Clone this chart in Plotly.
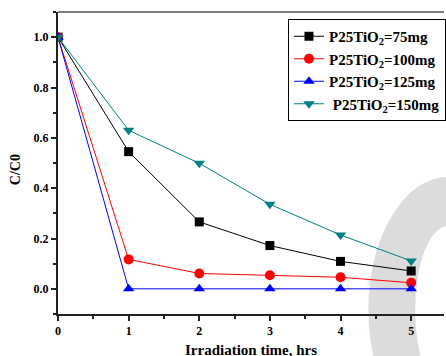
import plotly.graph_objects as go

time_hrs = [0, 1, 2, 3, 4, 5]
c_75mg = [1.0, 0.545, 0.266, 0.172, 0.109, 0.071]
c_100mg = [1.0, 0.117, 0.061, 0.054, 0.046, 0.024]
c_125mg = [1.0, 0.0, 0.0, 0.0, 0.0, 0.0]
c_150mg = [1.0, 0.630, 0.499, 0.336, 0.214, 0.111]

names = ["P25TiO<sub>2</sub>=75mg", "P25TiO<sub>2</sub>=100mg",
         "P25TiO<sub>2</sub>=125mg", " P25TiO<sub>2</sub>=150mg"]
series = [c_75mg, c_100mg, c_125mg, c_150mg]
colors = ["#000000", "#ff0000", "#0000ff", "#008080"]
symbols = ["square", "circle", "triangle-up", "triangle-down"]
sizes = [9, 10, 10, 10]

FONT = "Liberation Serif"

fig = go.Figure()
for name, ys, col, sym, sz in zip(names, series, colors, symbols, sizes):
    fig.add_trace(go.Scatter(
        x=time_hrs, y=ys, name=name, mode="lines+markers",
        line=dict(color=col, width=1),
        marker=dict(symbol=sym, size=sz, color=col),
    ))

W, H = 446, 356
L, R, T, B = 58, 0, 12, 42
pw, ph = W - L - R, H - T - B

def px(x):
    return (x - L) / pw

def py(y):
    return (H - B - y) / ph

shapes = [
    # grey watermark ring
    dict(type="circle", xref="paper", yref="paper", layer="below",
         x0=px(370), x1=px(530), y0=py(443), y1=py(177),
         fillcolor="#dcdcdc", line=dict(width=0)),
    dict(type="circle", xref="paper", yref="paper", layer="below",
         x0=px(417), x1=px(483), y0=py(394), y1=py(226),
         fillcolor="#ffffff", line=dict(width=0)),
    # top frame line
    dict(type="line", xref="paper", yref="paper", x0=0, x1=1, y0=1, y1=1,
         line=dict(color="#7f7f7f", width=2)),
]

fig.update_layout(
    width=W, height=H,
    margin=dict(l=L, r=R, t=T, b=B, pad=0),
    paper_bgcolor="white", plot_bgcolor="white",
    font=dict(family=FONT, color="black"),
    showlegend=True,
    legend=dict(x=px(448), xanchor="right", y=py(19), yanchor="top",
                bordercolor="black", borderwidth=1, bgcolor="white",
                font=dict(family=FONT, size=15, color="black", weight="bold"),
                tracegroupgap=0, itemwidth=30),
    shapes=shapes,
    annotations=[
        dict(text="<b>C/C0</b>", xref="paper", yref="paper", x=px(15), y=py(170),
             xanchor="center", yanchor="middle",
             showarrow=False, textangle=-90, font=dict(family=FONT, size=14)),
        dict(text="<b>Irradiation time, hrs</b>", xref="paper", yref="paper",
             x=0.5, y=py(349.5), xanchor="center", yanchor="middle",
             showarrow=False, font=dict(family=FONT, size=15)),
    ],
)

fig.update_xaxes(
    range=[0, pw / 71.0], tickmode="linear", tick0=0, dtick=1,
    ticks="outside", ticklen=5, tickwidth=1.5, tickcolor="#222",
    showline=True, linecolor="#222", linewidth=2,
    showgrid=False, zeroline=False,
    tickfont=dict(family=FONT, size=12, weight="bold"),
    minor=dict(dtick=0.5, ticks="outside", ticklen=3, tickcolor="#222", showgrid=False),
)
fig.update_yaxes(
    range=[-0.1, 1.1], tickmode="linear", tick0=0, dtick=0.2, tickformat=".1f",
    ticks="outside", ticklen=5, tickwidth=1.5, tickcolor="#222",
    showline=True, linecolor="#222", linewidth=2,
    showgrid=False, zeroline=False,
    tickfont=dict(family=FONT, size=12, weight="bold"),
    minor=dict(dtick=0.1, ticks="outside", ticklen=3, tickcolor="#222", showgrid=False),
)

fig.write_html("out.html")
